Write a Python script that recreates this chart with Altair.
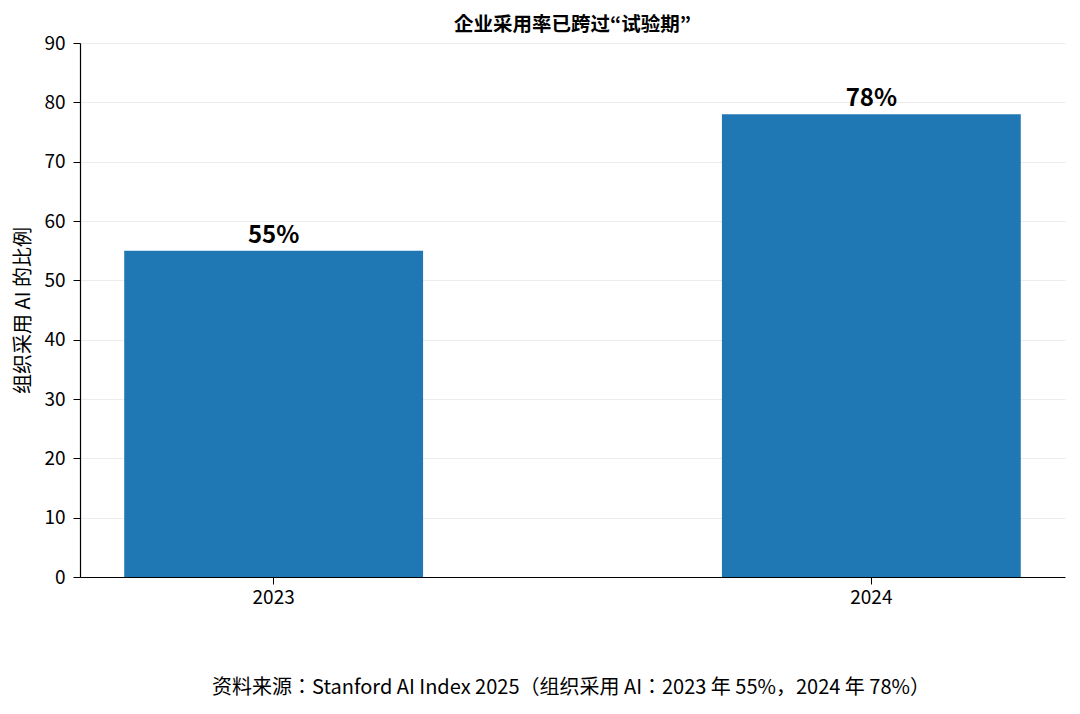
import altair as alt
import pandas as pd

years = ["2023", "2024"]
rates = [55, 78]
labels = ["55%", "78%"]

title_text = "企业采用率已跨过“试验期”"
y_title = "组织采用 AI 的比例"
footer = "资料来源：Stanford AI Index 2025（组织采用 AI：2023 年 55%，2024 年 78%）"

df = pd.DataFrame({"year": years, "rate": rates, "label": labels})
FONT = "Noto Sans CJK JP"

base = alt.Chart(df).encode(
    x=alt.X(
        "year:N",
        title=None,
        scale=alt.Scale(paddingInner=0.5, paddingOuter=0.074),
        axis=alt.Axis(labelAngle=0, labelFontSize=19, labelFont=FONT, labelColor="#000",
                      domainColor="#000", tickColor="#000", tickSize=7, labelPadding=4,
                      grid=False),
    ),
    y=alt.Y(
        "rate:Q",
        title=y_title,
        scale=alt.Scale(domain=[0, 90], nice=False),
        axis=alt.Axis(values=list(range(0, 91, 10)), labelFontSize=19, labelFont=FONT,
                      labelColor="#000", domainColor="#000", tickColor="#000", tickSize=7,
                      labelPadding=8, titleFontSize=20, titleFont=FONT, titleFontWeight="normal",
                      titleColor="#000", titlePadding=10, grid=True, gridColor="#ececec",
                      gridWidth=1),
    ),
)

bars = base.mark_bar(color="#1f77b4")
texts = base.mark_text(dy=-3, baseline="bottom", fontSize=24, fontWeight="bold", font=FONT,
                       color="#000").encode(text="label:N")

foot = alt.Chart(pd.DataFrame({"t": [footer]})).mark_text(
    fontSize=20, font=FONT, color="#000", baseline="middle", align="center"
).encode(text="t:N", x=alt.value(491), y=alt.value(645))

chart = alt.layer(bars, texts, foot).properties(
    width=985,
    height=534,
    title=alt.TitleParams(title_text, font=FONT, fontSize=19.5, fontWeight="bold",
                          color="#000", anchor="middle", offset=10, dy=11, frame="group"),
    autosize=alt.AutoSizeParams(type="none"),
    padding={"left": 72, "top": 35, "right": 7, "bottom": 125},
).configure_view(stroke=None).configure_axis(domainWidth=1.2)

chart.save("out.html", embed_options={"renderer": "svg", "actions": False})
